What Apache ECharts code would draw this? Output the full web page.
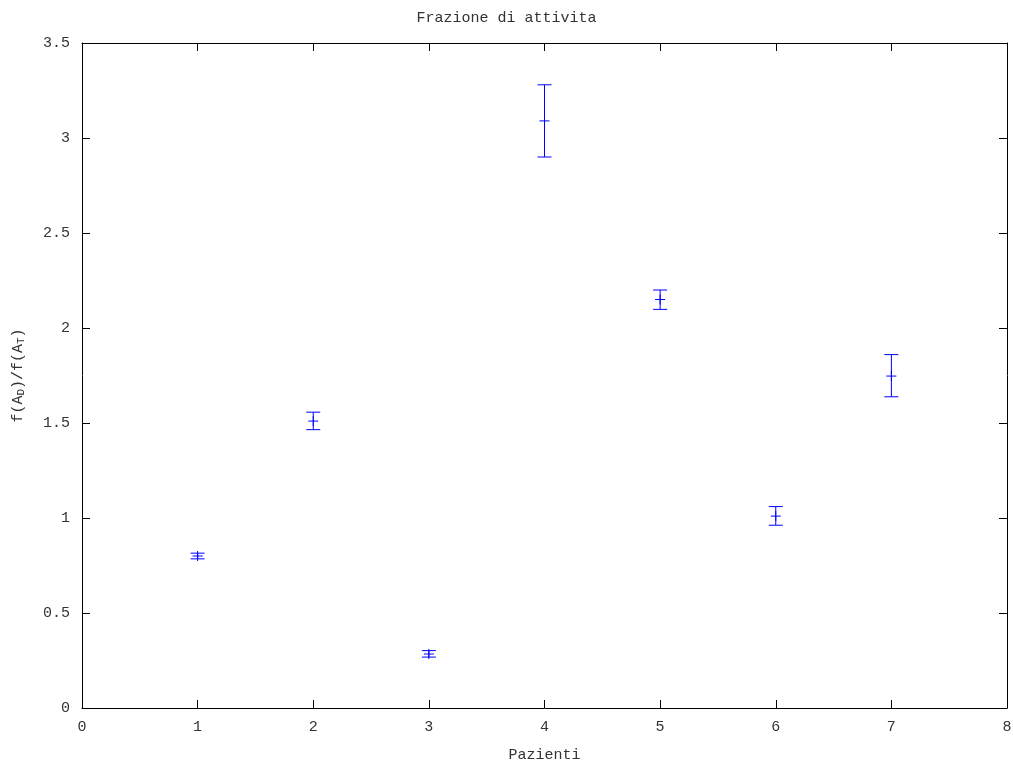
<!DOCTYPE html>
<html><head><meta charset="utf-8">
<script src="https://cdn.jsdelivr.net/npm/echarts@6/dist/echarts.min.js"></script>
<style>html,body{margin:0;padding:0;background:#fff}#c{width:1013px;height:767px}</style>
</head><body><div id="c"></div>
<script>
const patients = [1, 2, 3, 4, 5, 6, 7];
const ratio = [0.80, 1.51, 0.284, 3.09, 2.15, 1.01, 1.747];
const lowerBound = [0.785, 1.465, 0.268, 2.90, 2.098, 0.962, 1.638];
const upperBound = [0.815, 1.557, 0.302, 3.28, 2.20, 1.06, 1.86];
const xTicks = [0, 1, 2, 3, 4, 5, 6, 7, 8];
const yTicks = [0, 0.5, 1, 1.5, 2, 2.5, 3, 3.5];

const FONT = 'Liberation Mono';
const FS = 15;
const TXT = '#333';
const data = patients.map((p, i) => [p, ratio[i], lowerBound[i], upperBound[i]]);

const chart = echarts.init(document.getElementById('c'), null, {renderer: 'canvas'});
const axCommon = {
  axisLine: {show: true, onZero: false, lineStyle: {color: '#000', width: 1}},
  axisTick: {show: true, inside: true, length: 8, lineStyle: {color: '#000'}},
  splitLine: {show: false}
};
chart.setOption({
  animation: false,
  backgroundColor: '#fff',
  title: {text: 'Frazione di attivita', left: 'center', top: 6,
    textStyle: {fontFamily: FONT, fontSize: FS, fontWeight: 'normal', color: TXT}},
  grid: {left: 82, right: 6, top: 43, bottom: 59, containLabel: false, outerBoundsMode: 'none'},
  xAxis: [
    Object.assign({type: 'value', min: 0, max: 8, interval: 1, position: 'bottom',
      name: 'Pazienti', nameLocation: 'middle', nameGap: 40,
      nameTextStyle: {fontFamily: FONT, fontSize: FS, color: TXT},
      axisLabel: {fontFamily: FONT, fontSize: FS, color: TXT, margin: 12,
        formatter: v => xTicks.includes(v) ? String(v) : ''}}, axCommon),
    Object.assign({type: 'value', min: 0, max: 8, interval: 1, position: 'top',
      axisLabel: {show: false}}, axCommon)
  ],
  yAxis: [
    Object.assign({type: 'value', min: 0, max: 3.5, interval: 0.5, position: 'left',
      name: '{n|f(A}{s|D}{n|)/f(A}{s|T}{n|)}', nameLocation: 'middle', nameGap: 55, nameRotate: 90,
      nameTextStyle: {rich: {
        n: {fontFamily: FONT, fontSize: FS, color: TXT},
        s: {fontFamily: FONT, fontSize: 11, color: TXT, verticalAlign: 'bottom', padding: [7, 0, 0, 0]}
      }},
      axisLabel: {fontFamily: FONT, fontSize: FS, color: TXT, margin: 12,
        formatter: v => yTicks.includes(v) ? String(v) : ''}}, axCommon),
    Object.assign({type: 'value', min: 0, max: 3.5, interval: 0.5, position: 'right',
      axisLabel: {show: false}}, axCommon)
  ],
  series: [{
    type: 'custom',
    xAxisIndex: 0, yAxisIndex: 0,
    data: data,
    renderItem: function (params, api) {
      const x = api.value(0);
      const c = api.coord([x, api.value(1)]);
      const lo = api.coord([x, api.value(2)]);
      const hi = api.coord([x, api.value(3)]);
      const cw = 7, pw = 5;
      const st = {stroke: '#0000ff', lineWidth: 1};
      return {type: 'group', children: [
        {type: 'line', shape: {x1: lo[0], y1: lo[1], x2: hi[0], y2: hi[1]}, style: st},
        {type: 'line', shape: {x1: lo[0] - cw, y1: lo[1], x2: lo[0] + cw, y2: lo[1]}, style: st},
        {type: 'line', shape: {x1: hi[0] - cw, y1: hi[1], x2: hi[0] + cw, y2: hi[1]}, style: st},
        {type: 'line', shape: {x1: c[0] - pw, y1: c[1], x2: c[0] + pw, y2: c[1]}, style: st},
        {type: 'line', shape: {x1: c[0], y1: c[1] - pw, x2: c[0], y2: c[1] + pw}, style: st}
      ]};
    }
  }]
});
</script></body></html>
